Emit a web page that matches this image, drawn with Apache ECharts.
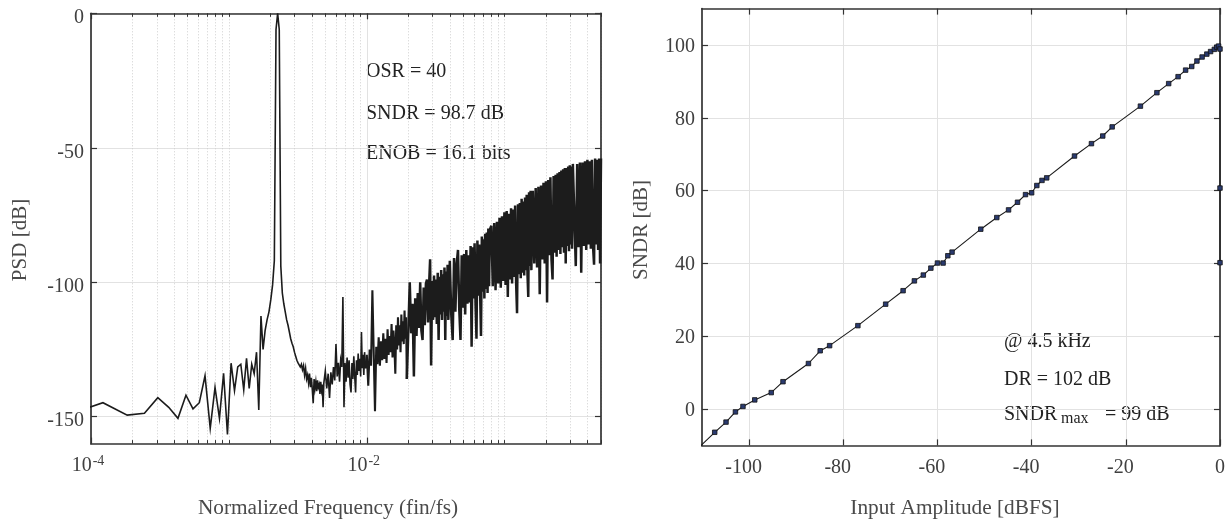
<!DOCTYPE html>
<html><head><meta charset="utf-8">
<script src="https://cdn.jsdelivr.net/npm/echarts@6/dist/echarts.min.js"></script>
<style>html,body{margin:0;padding:0;background:#fff}#c{width:1231px;height:525px}</style>
</head><body><div id="c"></div>
<script>
// ---------------- DATA: left panel (PSD, FFT length 16384) ----------------
const fftLength = 16384;
// bins 1..80, one value per bin (dB)
const psdLow = [
 -150, -144.8, -149.4, -148.7, -142.9, -146.5, -150.6, -142.0, -147.1, -144.8,
 -134.8, -154.3, -139.1, -150.6, -133.9, -156.6, -130.1, -140.3, -131.5, -130.5,
 -140, -128.3, -139.5, -130.5, -134, -126, -147.5, -112.6, -125, -118,
 -114, -111, -106.5, -101, -92, -6, 0, -6, -94, -104,
 -108, -111, -114, -116, -118.5, -121, -122.7, -124, -126, -127.5,
 -129, -130, -129.5, -131.5, -130.5, -132.5, -131, -134.5, -132, -136,
 -134.5, -137.5, -134, -139, -135.5, -140, -145, -136, -139.5, -137,
 -140.5, -136.5, -139, -138, -141.5, -137, -140, -138, -146.5, -137.5];
// higher bins, read in segments (first bin, bin step)
const segFirstBin = [82, 164, 328, 656, 1312, 2624, 5248];
const segBinStep  = [2, 4, 8, 16, 32, 64, 128];
const psdSeg1 = [-133, -139.5, -134, -143, -133.5, -138, -131.5, -136.5, -123, -135,
 -130, -137, -129, -131.5, -105.5, -146.5, -130, -137, -128, -135.5,
 -129, -138, -141, -130, -136, -127.5, -135, -141, -129, -134.5,
 -126.5, -133, -128.5, -135, -118.5, -132, -127, -134.5, -126, -132];
const psdSeg2 = [-127, -138.5, -125, -131, -103, -126, -148, -124, -130.5, -120.5,
 -131, -122, -129, -119, -128.5, -121, -130, -117.5, -127, -120,
 -126, -115.5, -128, -118, -124, -134, -116, -125, -113, -123.5,
 -116, -126, -112, -122, -114.5, -123, -110.5, -121, -113, -136];
const psdSeg3 = [-118, -100, -119, -108, -135, -106, -120, -104, -117, -100,
 -118, -121.5, -102, -116, -100.5, -99, -115, -101, -91.5, -131,
 -99.5, -114, -97.5, -113, -99, -115.5, -96.5, -121.5, -98, -112,
 -95.5, -114, -97, -111, -94.5, -121.5, -96, -112.5, -93.5, -114];
const psdSeg4 = [-92, -112, -121.5, -91, -111, -93, -88, -110, -121.5, -90,
 -109.5, -89.5, -112, -88, -108, -90, -107.5, -86.5, -124, -87,
 -106, -85.5, -108, -121, -84.5, -105, -86, -104, -120, -83,
 -103.5, -84, -106, -82, -102.5, -81.5, -104, -80, -101.5, -80.5];
const psdSeg5 = [-79, -101.5, -78, -103, -77.5, -100.5, -76, -102, -75.5, -99.5,
 -74, -101, -73.5, -105.5, -74.5, -99, -72.5, -100.5, -73, -98,
 -71.5, -100, -111.5, -71, -97, -70.5, -98.5, -69, -96.5, -70,
 -97.5, -68.5, -95.5, -67.5, -97, -105.5, -66.5, -94, -66, -95.5];
const psdSeg6 = [-66, -93, -65, -94.5, -64.5, -104.5, -64, -91.5, -63, -93,
 -62.5, -107.5, -62, -90, -61, -91.5, -99, -60.5, -89, -60,
 -90.5, -59.5, -88, -59, -89.5, -58.5, -87, -58, -89, -57.5,
 -93, -57.5, -86.5, -57, -88.5, -56.5, -86, -57, -87.5, -56];
const psdSeg7 = [-56.5, -94, -56, -87, -55.5, -96.5, -55.5, -86.5, -55, -88,
 -54.5, -86, -55, -87.5, -54.5, -86.5, -93.5, -54, -86, -54.5,
 -88, -54, -93, -54];
const psdYTicks = [-150, -100, -50, 0];
const psdXTicks = [1e-4, 1e-2];
const psdXTickExp = ['-4', '-2'];
const psdXMinor = [2e-4,3e-4,4e-4,5e-4,6e-4,7e-4,8e-4,9e-4,1e-3,2e-3,3e-3,4e-3,5e-3,6e-3,7e-3,8e-3,9e-3,
                   2e-2,3e-2,4e-2,5e-2,6e-2,7e-2,8e-2,9e-2,1e-1,2e-1,3e-1,4e-1,5e-1];
const psdNotes = ['OSR = 40', 'SNDR = 98.7 dB', 'ENOB = 16.1 bits'];

// ---------------- DATA: right panel (SNDR vs input amplitude) ----------------
const inputAmp = [-111, -107.3, -104.9, -102.9, -101.3, -98.8, -95.3, -92.8, -87.4, -84.9,
 -82.9, -76.9, -71.0, -67.3, -64.9, -63.0, -61.4, -60.0, -58.8, -57.8,
 -56.9, -50.8, -47.4, -44.9, -43.0, -41.3, -40.0, -38.9, -37.8, -36.8,
 -30.9, -27.3, -24.9, -22.9, -16.9, -13.4, -10.9, -8.9, -7.3, -6.0,
 -4.9, -3.8, -2.8, -2.0, -1.2, -0.7, -0.3, 0, 0, 0];
const sndrVals = [-11, -6.4, -3.6, -0.8, 0.7, 2.5, 4.5, 7.5, 12.5, 16.0,
 17.4, 22.9, 28.8, 32.5, 35.2, 36.8, 38.7, 40.1, 40.1, 42.1,
 43.1, 49.4, 52.6, 54.7, 56.8, 58.9, 59.4, 61.4, 62.8, 63.5,
 69.5, 72.9, 75.0, 77.5, 83.2, 86.9, 89.4, 91.3, 93.1, 94.1,
 95.6, 96.7, 97.5, 98.2, 98.8, 99.4, 99.7, 98.9, 60.7, 40.2];
const sndrXTicks = [-100, -80, -60, -40, -20, 0];
const sndrYTicks = [0, 20, 40, 60, 80, 100];
const sndrNotes = ['@ 4.5 kHz', 'DR = 102 dB', 'SNDR', 'max', '= 99 dB'];

// ---------------- build series data ----------------
const segs = [psdSeg1, psdSeg2, psdSeg3, psdSeg4, psdSeg5, psdSeg6, psdSeg7];
function segPoints(s) {
  return segs[s].map((v, i) => [(segFirstBin[s] + i * segBinStep[s]) / fftLength, v]);
}
// sparse part: bins 1..160
const psdSparse = psdLow.map((v, i) => [(i + 1) / fftLength, v]).concat(segPoints(0));
// medium part: bins 160..320
const psdMid = [psdSparse[psdSparse.length - 1]].concat(segPoints(1));
// dense part: bins 320..8192
let psdDense = [psdMid[psdMid.length - 1]];
for (let s = 2; s < segs.length; s++) psdDense = psdDense.concat(segPoints(s));
const sndrData = inputAmp.map((x, i) => [x, sndrVals[i]]);

const FONT = 'Liberation Serif';
const AX = '#333333';
const LBL = '#404040';
const GRID = '#e2e2e2';
const LINE = '#1c1c1c';

function lblStyle(extra) {
  return Object.assign({fontFamily: FONT, fontSize: 20, color: LBL}, extra || {});
}
function psdLine(data, width, join) {
  return {
    type: 'line', xAxisIndex: 0, yAxisIndex: 0, data: data,
    showSymbol: false, symbol: 'none', clip: true, sampling: null,
    lineStyle: {color: LINE, width: width, join: join}, z: 5, silent: true
  };
}
function note(x, y, text, size, color) {
  return {type: 'text', x: x, y: y, style: {text: text, fontFamily: FONT, fontSize: size || 20, fill: color || '#222', align: 'left', verticalAlign: 'middle'}};
}

const chart = echarts.init(document.getElementById('c'), null, {renderer: 'canvas'});
const option = {
  animation: false,
  backgroundColor: '#ffffff',
  grid: [
    {left: 91, top: 13.3, width: 510, height: 430.3, outerBoundsMode: 'none', containLabel: false},
    {left: 702, top: 8.6, width: 518, height: 436.8, outerBoundsMode: 'none', containLabel: false}
  ],
  xAxis: [
    { // 0 left bottom major
      type: 'log', logBase: 10, gridIndex: 0, min: 1e-4, max: 0.5, position: 'bottom',
      axisLine: {show: true, onZero: false, lineStyle: {color: AX, width: 1.7}},
      axisTick: {show: true, inside: true, length: 6, customValues: psdXTicks, lineStyle: {color: AX, width: 1.2}},
      axisLabel: {show: true, customValues: psdXTicks, margin: 11,
        formatter: function (v) {
          let idx = 0;
          psdXTicks.forEach((t, i) => { if (Math.abs(Math.log10(t) - Math.log10(v)) < 1e-6) idx = i; });
          return '{b|10}{s|' + psdXTickExp[idx] + '}';
        },
        rich: {b: lblStyle({lineHeight: 22}), s: lblStyle({fontSize: 14, verticalAlign: 'top', lineHeight: 22, padding: [0, 6, 0, 1]})}
      },
      splitLine: {show: true, lineStyle: {color: GRID, width: 1}}
    },
    { // 1 left bottom minor
      type: 'log', logBase: 10, gridIndex: 0, min: 1e-4, max: 0.5, position: 'bottom',
      axisLine: {show: false, onZero: false},
      axisTick: {show: true, inside: true, length: 3.5, customValues: psdXMinor, lineStyle: {color: AX, width: 1}},
      axisLabel: {show: false},
      splitLine: {show: true, lineStyle: {color: '#cfcfcf', width: 1, type: [1, 2]}}
    },
    { // 2 left top major
      type: 'log', logBase: 10, gridIndex: 0, min: 1e-4, max: 0.5, position: 'top',
      axisLine: {show: true, onZero: false, lineStyle: {color: AX, width: 1.7}},
      axisTick: {show: true, inside: true, length: 6, customValues: psdXTicks, lineStyle: {color: AX, width: 1.2}},
      axisLabel: {show: false}, splitLine: {show: false}
    },
    { // 3 left top minor
      type: 'log', logBase: 10, gridIndex: 0, min: 1e-4, max: 0.5, position: 'top',
      axisLine: {show: false, onZero: false},
      axisTick: {show: true, inside: true, length: 3.5, customValues: psdXMinor, lineStyle: {color: AX, width: 1}},
      axisLabel: {show: false}, splitLine: {show: false}
    },
    { // 4 right bottom
      type: 'value', gridIndex: 1, min: -110, max: 0, position: 'bottom',
      axisLine: {show: true, onZero: false, lineStyle: {color: AX, width: 1.7}},
      axisTick: {show: true, inside: true, length: 6, customValues: sndrXTicks, lineStyle: {color: AX, width: 1.2}},
      axisLabel: {show: true, customValues: sndrXTicks, margin: 12,
        formatter: function (v) { return v < 0 ? '{n|' + v + '}' : '{z|' + v + '}'; },
        rich: {n: lblStyle({padding: [0, 11, 0, 0]}), z: lblStyle()}
      },
      splitLine: {show: true, lineStyle: {color: GRID, width: 1}}
    },
    { // 5 right top
      type: 'value', gridIndex: 1, min: -110, max: 0, position: 'top',
      axisLine: {show: true, onZero: false, lineStyle: {color: AX, width: 1.7}},
      axisTick: {show: true, inside: true, length: 6, customValues: sndrXTicks, lineStyle: {color: AX, width: 1.2}},
      axisLabel: {show: false}, splitLine: {show: false}
    }
  ],
  yAxis: [
    { // 0 left panel left
      type: 'value', gridIndex: 0, min: -160, max: 0, position: 'left',
      axisLine: {show: true, onZero: false, lineStyle: {color: AX, width: 1.7}},
      axisTick: {show: true, inside: true, length: 6, customValues: psdYTicks, lineStyle: {color: AX, width: 1.2}},
      axisLabel: {show: true, customValues: psdYTicks, margin: 7,
        formatter: function (v) { return '{a|' + v + '}'; },
        rich: {a: lblStyle({padding: [9, 0, 0, 0]})}
      },
      splitLine: {show: true, lineStyle: {color: GRID, width: 1}}
    },
    { // 1 left panel right
      type: 'value', gridIndex: 0, min: -160, max: 0, position: 'right',
      axisLine: {show: true, onZero: false, lineStyle: {color: AX, width: 1.7}},
      axisTick: {show: true, inside: true, length: 6, customValues: psdYTicks, lineStyle: {color: AX, width: 1.2}},
      axisLabel: {show: false}, splitLine: {show: false}
    },
    { // 2 right panel left
      type: 'value', gridIndex: 1, min: -10, max: 110, position: 'left',
      axisLine: {show: true, onZero: false, lineStyle: {color: AX, width: 1.7}},
      axisTick: {show: true, inside: true, length: 6, customValues: sndrYTicks, lineStyle: {color: AX, width: 1.2}},
      axisLabel: {show: true, customValues: sndrYTicks, margin: 7,
        formatter: function (v) { return '{a|' + v + '}'; },
        rich: {a: lblStyle({padding: [3, 0, 0, 0]})}
      },
      splitLine: {show: true, lineStyle: {color: GRID, width: 1}}
    },
    { // 3 right panel right
      type: 'value', gridIndex: 1, min: -10, max: 110, position: 'right',
      axisLine: {show: true, onZero: false, lineStyle: {color: AX, width: 1.7}},
      axisTick: {show: true, inside: true, length: 6, customValues: sndrYTicks, lineStyle: {color: AX, width: 1.2}},
      axisLabel: {show: false}, splitLine: {show: false}
    }
  ],
  series: [
    psdLine(psdSparse, 1.6, 'miter'),
    psdLine(psdMid, 2.1, 'bevel'),
    psdLine(psdDense, 2.5, 'bevel'),
    {
      name: 'SNDR', type: 'line', xAxisIndex: 4, yAxisIndex: 2, data: sndrData,
      symbol: 'rect', symbolSize: 4.5, showSymbol: true, clip: true,
      lineStyle: {color: '#1a1a1a', width: 1.1},
      itemStyle: {color: '#2a3a6e', borderColor: '#111111', borderWidth: 0.8}, z: 5
    }
  ],
  graphic: [
    note(366, 72, psdNotes[0]),
    note(366, 113.5, psdNotes[1]),
    note(366, 153.5, psdNotes[2]),
    {type: 'text', x: 20, y: 240, rotation: Math.PI / 2, style: {text: 'PSD [dB]', fontFamily: FONT, fontSize: 21, fill: '#4a4a4a', align: 'center', verticalAlign: 'middle'}},
    {type: 'text', x: 328, y: 508, style: {text: 'Normalized Frequency (fin/fs)', fontFamily: FONT, fontSize: 21.3, fill: '#4a4a4a', align: 'center', verticalAlign: 'middle'}},
    {type: 'text', x: 641, y: 230, rotation: Math.PI / 2, style: {text: 'SNDR [dB]', fontFamily: FONT, fontSize: 21, fill: '#4a4a4a', align: 'center', verticalAlign: 'middle'}},
    {type: 'text', x: 955, y: 508, style: {text: 'Input Amplitude [dBFS]', fontFamily: FONT, fontSize: 21.3, fill: '#4a4a4a', align: 'center', verticalAlign: 'middle'}},
    note(1004, 342, sndrNotes[0]),
    note(1004, 380, sndrNotes[1]),
    note(1004, 415, sndrNotes[2]),
    note(1061, 419, sndrNotes[3], 16),
    note(1105, 415, sndrNotes[4])
  ]
};
chart.setOption(option);
</script></body></html>
